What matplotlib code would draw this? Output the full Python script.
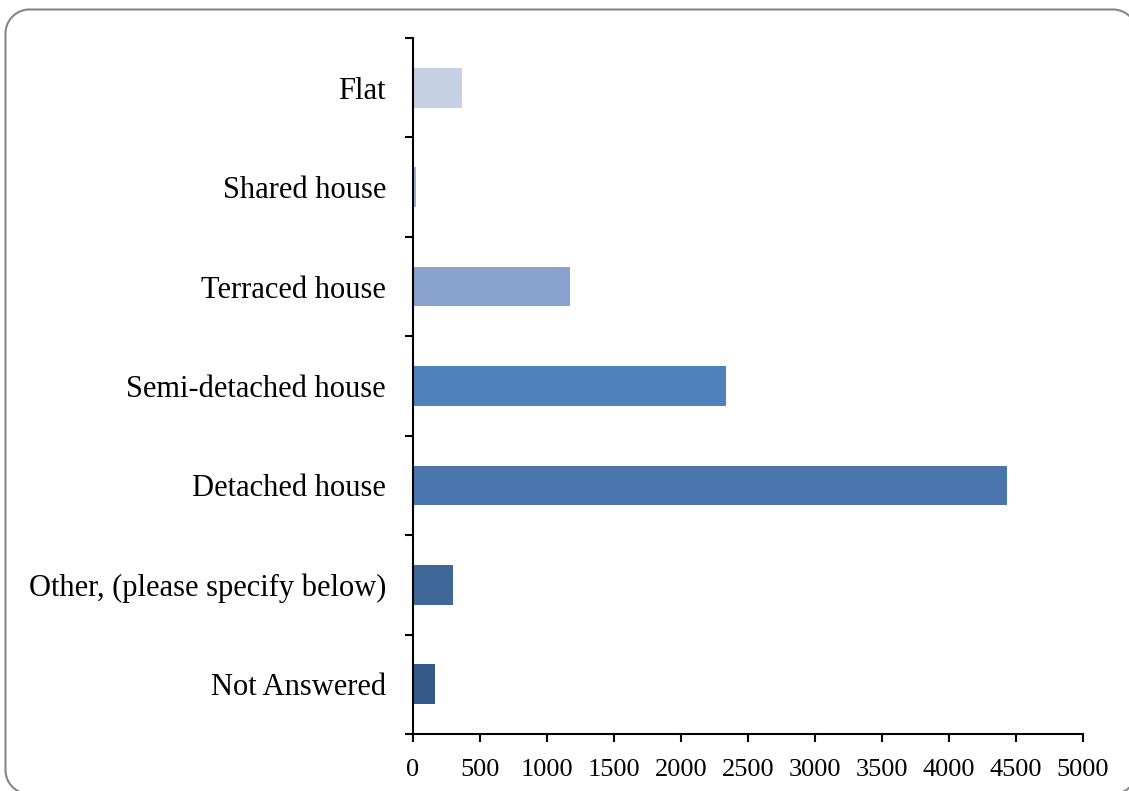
import matplotlib
matplotlib.use("Agg")
import matplotlib.pyplot as plt
from matplotlib.patches import Polygon
import numpy as np

categories = ["Flat", "Shared house", "Terraced house", "Semi-detached house",
              "Detached house", "Other, (please specify below)", "Not Answered"]
values = [365, 20, 1172, 2336, 4433, 299, 164]
colors = ["#C5D0E3", "#9DB1D7", "#88A2CD", "#4F81BD", "#4A76AD", "#3F6899", "#345A8A"]
xticks = [0, 500, 1000, 1500, 2000, 2500, 3000, 3500, 4000, 4500, 5000]

plt.rcParams['font.family'] = ['Liberation Serif', 'DejaVu Serif']

W, H = 1129, 791
fig = plt.figure(figsize=(W / 100, H / 100), dpi=100)

# background axes in pixel coordinates for the rounded frame
bg = fig.add_axes([0, 0, 1, 1], zorder=-1)
bg.set_xlim(0, W)
bg.set_ylim(H, 0)
bg.axis("off")
L, R, T, B, r = 5.5, 1137, 9.5, 794, 24
pts = []
corners = [(R - r, T + r, -90, 0), (R - r, B - r, 0, 90),
           (L + r, B - r, 90, 180), (L + r, T + r, 180, 270)]
for cx, cy, a0, a1 in corners:
    t = np.radians(np.linspace(a0, a1, 30))
    pts.extend(zip(cx + r * np.cos(t), cy + r * np.sin(t)))
bg.add_patch(Polygon(pts, closed=True, fill=False, edgecolor="#868686",
                     linewidth=1.5, joinstyle="round", clip_on=False))

ax = fig.add_axes([413 / W, 1 - 734 / H, (1083 - 413) / W, (734 - 38) / H])
ax.patch.set_alpha(0)
n = len(categories)
ypos = list(range(n))
ax.barh(ypos, values, height=0.4, color=colors)
ax.set_ylim(n - 0.5, -0.5)
ax.set_xlim(0, 5000)
ax.set_xticks(xticks)
ax.set_xticklabels([str(t) for t in xticks], fontsize=19)
ax.set_yticks(ypos)
ax.set_yticklabels(categories, fontsize=22)
ax.set_yticks([i - 0.5 for i in range(n + 1)], minor=True)
ax.tick_params(axis='y', which='major', length=0, pad=19.5)
ax.tick_params(axis='y', which='minor', length=6, width=1.5, direction='out')
ax.tick_params(axis='x', length=6, width=1.5, direction='out', pad=12)
for s in ["top", "right"]:
    ax.spines[s].set_visible(False)
for s in ["left", "bottom"]:
    ax.spines[s].set_linewidth(1.5)

fig.savefig("out.png", dpi=100)
